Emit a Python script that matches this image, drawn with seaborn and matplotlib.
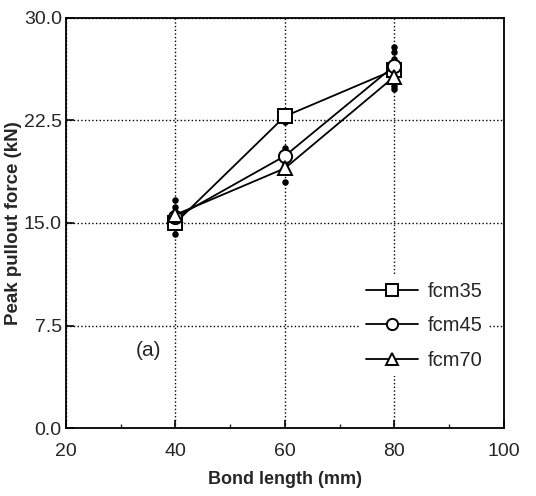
import matplotlib
matplotlib.use("Agg")
import matplotlib.pyplot as plt
import seaborn as sns
import pandas as pd
from matplotlib.ticker import MultipleLocator

sns.set_theme(style="white")
plt.rcParams['font.family'] = ['Liberation Sans', 'DejaVu Sans']

bond_length = [40, 60, 80]
series = ["fcm35", "fcm45", "fcm70"]
fcm35 = [15.0, 22.8, 26.2]
fcm45 = [15.4, 19.9, 26.5]
fcm70 = [15.6, 19.0, 25.7]

# individual test results (small filled dots)
test_x = [40, 40, 40, 40, 40, 40, 60, 60, 60, 60, 60, 80, 80, 80, 80, 80]
test_y = [16.7, 16.2, 15.8, 14.6, 14.2, 15.2, 23.2, 22.4, 20.5, 19.4, 18.0, 27.9, 27.5, 27.0, 25.0, 24.8]

xticks = [20, 40, 60, 80, 100]
yticks = [0.0, 7.5, 15.0, 22.5, 30.0]

rows = []
for name, vals in zip(series, [fcm35, fcm45, fcm70]):
    for x, v in zip(bond_length, vals):
        rows.append({"x": x, "y": v, "series": name})
df = pd.DataFrame(rows)
dots = pd.DataFrame({"x": test_x, "y": test_y})

fig = plt.figure(figsize=(5.36, 4.96), dpi=100)
ax = fig.add_axes([0.123, 0.137, 0.817, 0.827])

sns.scatterplot(data=dots, x="x", y="y", ax=ax, color="black", s=22,
                marker="o", edgecolor="black", linewidth=0, legend=False, zorder=3)

sns.lineplot(data=df, x="x", y="y", hue="series", style="series",
             palette=["black"] * 3, markers=["s", "o", "^"], dashes=False,
             markersize=9.5, markerfacecolor="white", markeredgecolor="black",
             markeredgewidth=1.4, linewidth=1.3, ax=ax, zorder=4)

ax.set_xlim(20, 100)
ax.set_ylim(0, 30)
ax.set_xticks(xticks)
ax.set_yticks(yticks)
ax.set_xticklabels([str(t) for t in xticks], fontsize=14)
ax.set_yticklabels([f"{t:.1f}" for t in yticks], fontsize=14)
ax.xaxis.set_minor_locator(MultipleLocator(10))
ax.tick_params(axis="both", which="major", direction="in", length=6, width=1.2, color="black",
               bottom=True, left=True)
ax.tick_params(axis="x", which="major", pad=11)
ax.tick_params(axis="y", which="major", pad=3)
ax.tick_params(axis="x", which="minor", direction="in", length=3, width=1.0, bottom=True)
ax.grid(True, which="major", linestyle=":", color="black", linewidth=1.0)
for sp in ax.spines.values():
    sp.set_color("black")
    sp.set_linewidth(1.3)

ax.set_xlabel("Bond length (mm)", fontsize=13, fontweight="bold", labelpad=8)
ax.set_ylabel("Peak pullout force (kN)", fontsize=13.5, fontweight="bold", labelpad=1)

ax.text(35.0, 5.7, "(a)", fontsize=15, va="center", ha="center")

leg = ax.legend(loc="lower right", bbox_to_anchor=(0.975, 0.118), frameon=True,
                fontsize=14.5, handlelength=2.6, handletextpad=0.5,
                labelspacing=0.75, borderaxespad=0.2, markerscale=0.85,
                facecolor="white", edgecolor="none", framealpha=1.0, borderpad=0.3)
leg.set_title(None)
leg.set_zorder(10)

fig.savefig("out.png", dpi=100)
